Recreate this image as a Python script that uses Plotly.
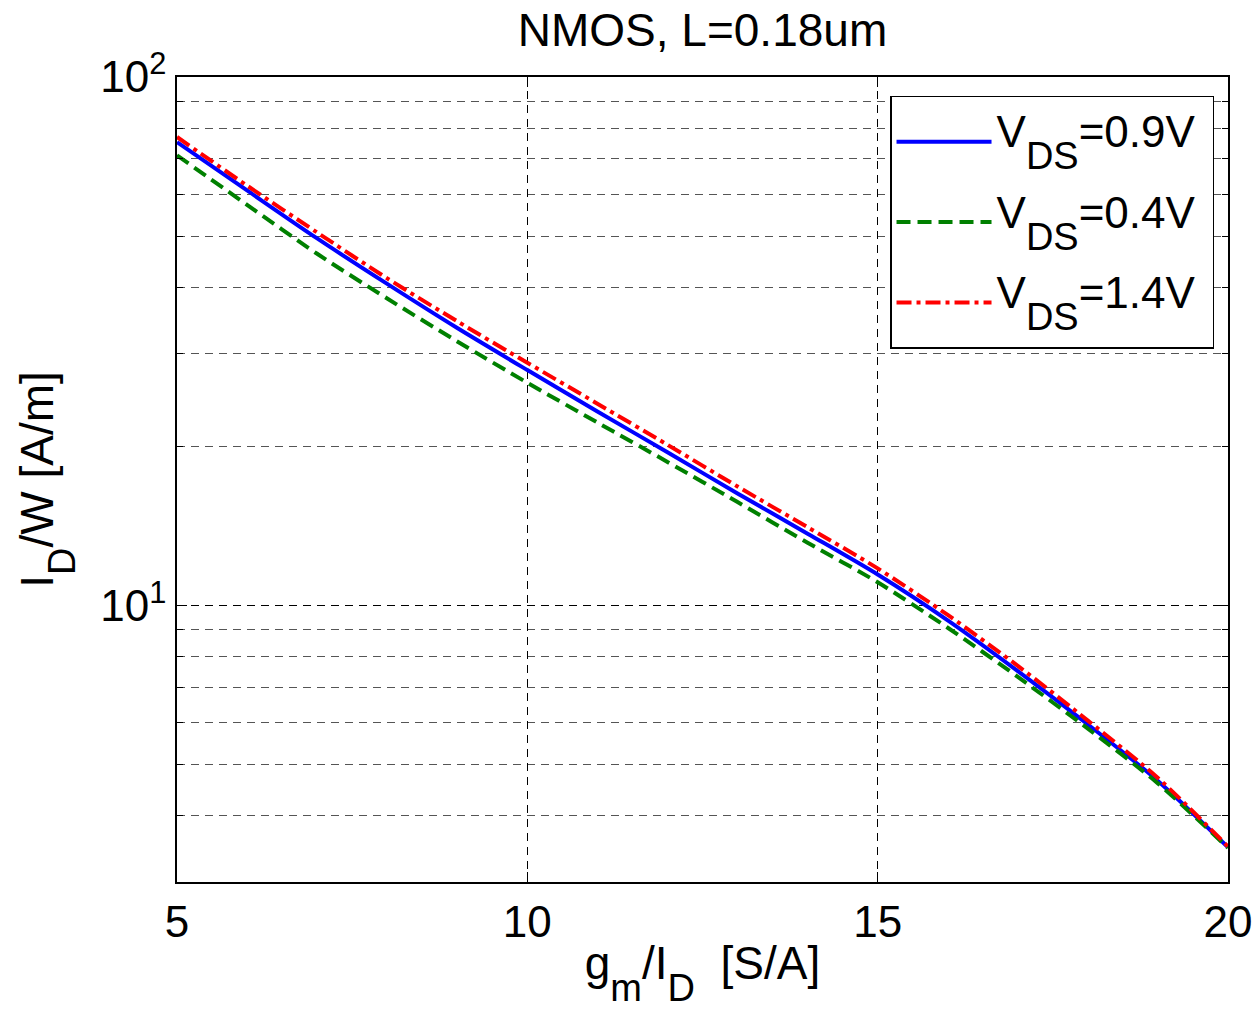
import plotly.graph_objects as go

# g_m/I_D values [S/A]
gm_id = [5, 6, 7, 8, 9, 10, 11, 12, 13, 14, 15, 16, 17, 18, 19, 20]

# I_D/W [A/m] for each V_DS
id_w_09 = [75.3, 61.0, 49.5, 40.6, 33.5, 27.9, 23.3, 19.5, 16.3, 13.68, 11.45, 9.38, 7.52, 5.96, 4.66, 3.49]
id_w_04 = [71.1, 57.3, 46.3, 38.1, 31.6, 26.4, 22.2, 18.7, 15.7, 13.15, 11.07, 9.08, 7.33, 5.85, 4.61, 3.48]
id_w_14 = [77.0, 62.3, 50.8, 41.6, 34.5, 28.8, 24.1, 20.15, 16.8, 14.07, 11.76, 9.60, 7.69, 6.06, 4.72, 3.50]

SUB = "<span style='font-size:38px;baseline-shift:-22px'>{}</span>"
LEG = "<span style='font-size:44px;baseline-shift:17px'>V" + SUB.format("DS") + "={}&nbsp;</span>"
series_names = [LEG.format("0.9V"), LEG.format("0.4V"), LEG.format("1.4V")]

x_ticks = [5, 10, 15, 20]
y_major = [10, 100]
y_major_text = ["10<sup>1</sup>", "10<sup>2</sup>"]
y_minor = [3, 4, 5, 6, 7, 8, 9, 20, 30, 40, 50, 60, 70, 80, 90]

FONT = "Liberation Sans, Arial, Helvetica, sans-serif"

fig = go.Figure()
fig.add_trace(go.Scatter(x=gm_id, y=id_w_09, mode="lines", name=series_names[0], legendgroup="a",
                         line=dict(color="#0000ff", width=4, dash="solid", shape="spline", smoothing=0.8)))
fig.add_trace(go.Scatter(x=gm_id, y=id_w_04, mode="lines", name=series_names[1], legendgroup="b",
                         line=dict(color="#008000", width=4, dash="14px,7px", shape="spline", smoothing=0.8)))
fig.add_trace(go.Scatter(x=gm_id, y=id_w_14, mode="lines", name=series_names[2], legendgroup="c",
                         line=dict(color="#ff0000", width=4, dash="15px,5px,4px,5px", shape="spline", smoothing=0.8)))

axis_common = dict(
    showline=True, linecolor="black", linewidth=1.5, mirror="allticks",
    ticks="inside", ticklen=10, tickcolor="black", tickwidth=1,
    showgrid=True, gridcolor="black", gridwidth=1, griddash="8px,6px",
    zeroline=False, automargin=False,
    tickfont=dict(family=FONT, size=44, color="black"),
)

fig.update_xaxes(
    range=[5, 20], tickmode="array", tickvals=x_ticks,
    title=dict(text="g" + SUB.format("m") + "/I" + SUB.format("D") + "  [S/A]",
               font=dict(family=FONT, size=46, color="black"), standoff=6),
    **axis_common,
)
fig.update_yaxes(
    type="log", range=[0.4771, 2.0], tickmode="array", tickvals=y_major, ticktext=y_major_text,
    minor=dict(tickmode="array", tickvals=y_minor, ticks="inside", ticklen=6, tickcolor="black",
               showgrid=True, gridcolor="#555555", gridwidth=1, griddash="8px,6px"),
    title=dict(text="I" + SUB.format("D") + "/W [A/m]", font=dict(family=FONT, size=46, color="black"), standoff=32),
    **axis_common,
)

fig.update_layout(
    width=1256, height=1009,
    margin=dict(l=177, r=28, t=77, b=127),
    paper_bgcolor="white", plot_bgcolor="white",
    title=dict(text="NMOS, L=0.18um", x=0.5, xref="paper", xanchor="center", y=0.970, yanchor="middle",
               font=dict(family=FONT, size=46, color="black")),
    legend=dict(x=0.9867, xanchor="right", y=0.9764, yanchor="top",
                bordercolor="black", borderwidth=1.5, bgcolor="white",
                font=dict(family=FONT, size=58, color="black"),
                itemwidth=95, tracegroupgap=2),
    showlegend=True,
)

fig.write_html("out.html")
